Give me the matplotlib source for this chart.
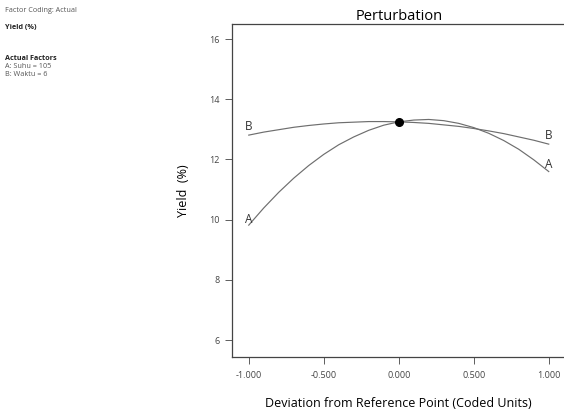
import numpy as np
import matplotlib
matplotlib.use("Agg")
from matplotlib import pyplot as plt

plt.rcParams['font.family'] = ['Open Sans', 'DejaVu Sans']

# deviation from reference point (coded units)
dev = [-1.0, -0.9, -0.8, -0.7, -0.6, -0.5, -0.4, -0.3, -0.2, -0.1, 0.0,
       0.1, 0.2, 0.3, 0.4, 0.5, 0.6, 0.7, 0.8, 0.9, 1.0]
# A: Suhu
yield_a = [9.82, 10.39, 10.91, 11.38, 11.80, 12.17, 12.49, 12.75, 12.97, 13.14, 13.25,
           13.31, 13.33, 13.29, 13.20, 13.06, 12.87, 12.63, 12.34, 11.99, 11.60]
# B: Waktu
yield_b = [12.81, 12.91, 12.99, 13.07, 13.13, 13.18, 13.22, 13.24, 13.26, 13.26, 13.25,
           13.23, 13.20, 13.15, 13.10, 13.03, 12.95, 12.86, 12.75, 12.64, 12.51]
ref_x = 0.0
ref_y = 13.25

x_ticks = [-1.0, -0.5, 0.0, 0.5, 1.0]
y_ticks = [6, 8, 10, 12, 14, 16]

fig = plt.figure(figsize=(5.64, 4.12), dpi=100)
ax = fig.add_axes([0.411, 0.1335, 0.592, 0.8082])

line_col = "#6e6e6e"
ax.plot(dev, yield_a, color=line_col, lw=0.85)
ax.plot(dev, yield_b, color=line_col, lw=0.85)
ax.plot([ref_x], [ref_y], 'o', color='black', markersize=5.5)

# curve labels
lab_kw = dict(fontsize=8.5, color="#333333", ha='center', va='center')
ax.text(dev[0], yield_a[0] + 0.2, "A", **lab_kw)
ax.text(dev[-1], yield_a[-1] + 0.25, "A", **lab_kw)
ax.text(dev[0], yield_b[0] + 0.3, "B", **lab_kw)
ax.text(dev[-1], yield_b[-1] + 0.3, "B", **lab_kw)

ax.set_xlim(-1.113, 1.113)
ax.set_ylim(5.44, 16.5)
ax.set_xticks(x_ticks)
ax.set_xticklabels(["%.3f" % v for v in x_ticks])
ax.set_yticks(y_ticks)
ax.tick_params(axis='both', labelsize=6.5, colors="#444444", width=0.6, length=5)
ax.tick_params(axis='x', pad=5)
ax.spines['right'].set_visible(False)
for s in ax.spines.values():
    s.set_color("#444444")
    s.set_linewidth(0.9)

ax.set_title("Perturbation", fontsize=10.5, pad=3)
ax.set_xlabel("Deviation from Reference Point (Coded Units)", fontsize=9, labelpad=12)
ax.set_ylabel("Yield  (%)", fontsize=9, labelpad=14)

# side notes
fig.text(5 / 564, 1 - 10 / 412, "Factor Coding: Actual", fontsize=5.2, color="#555555", va='center')
fig.text(5 / 564, 1 - 28 / 412, "Yield (%)", fontsize=5.2, fontweight='bold', color="#222222", va='center')
fig.text(5 / 564, 1 - 58 / 412, "Actual Factors", fontsize=5.2, fontweight='bold', color="#222222", va='center')
fig.text(5 / 564, 1 - 66 / 412, "A: Suhu = 105", fontsize=5.2, color="#555555", va='center')
fig.text(5 / 564, 1 - 74 / 412, "B: Waktu = 6", fontsize=5.2, color="#555555", va='center')

fig.savefig("out.png", dpi=100)
